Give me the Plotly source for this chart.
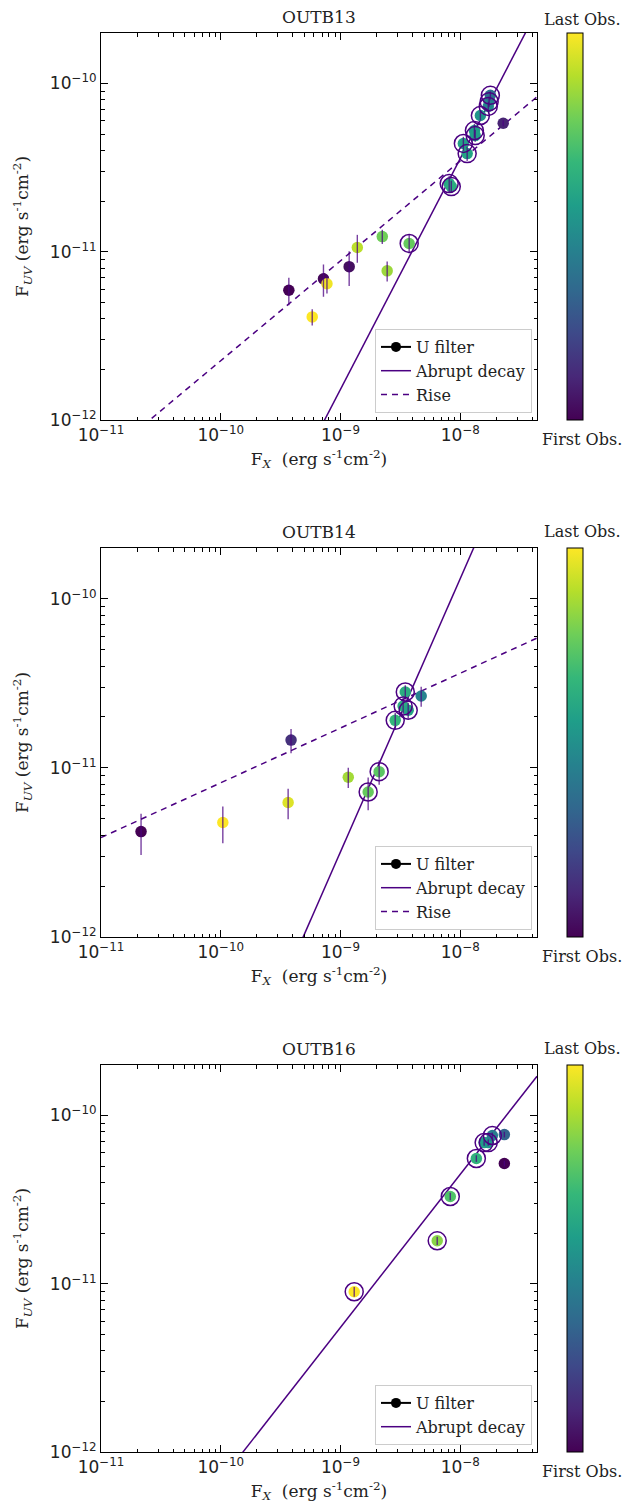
import numpy as np
import plotly.graph_objects as go

# ---------------- data ----------------
titles = ["OUTB13", "OUTB14", "OUTB16"]

# OUTB13
fx1 = [3.7e-10, 7.2e-10, 7.7e-10, 5.8e-10, 1.18e-9, 1.38e-9, 2.23e-9, 2.45e-9, 3.74e-9,
       8.07e-9, 8.4e-9, 1.06e-8, 1.14e-8, 1.31e-8, 1.33e-8, 1.47e-8, 1.71e-8, 1.74e-8, 1.78e-8, 2.28e-8]
fuv1 = [5.9e-12, 6.9e-12, 6.45e-12, 4.1e-12, 8.15e-12, 1.06e-11, 1.23e-11, 7.7e-12, 1.12e-11,
        2.54e-11, 2.44e-11, 4.4e-11, 3.83e-11, 5.25e-11, 4.9e-11, 6.45e-11, 7.3e-11, 7.8e-11, 8.5e-11, 5.8e-11]
err1 = [1.1e-12, 1.5e-12, 0.8e-12, 0.45e-12, 1.9e-12, 2.0e-12, 1.2e-12, 1.05e-12, 1.4e-12,
        2.8e-12, 2.0e-12, 4.2e-12, 3.7e-12, 5e-12, 4e-12, 4.4e-12, 5e-12, 5.3e-12, 4.7e-12, 2.4e-12]
obs1 = [0.00, 0.02, 0.98, 1.00, 0.04, 0.90, 0.78, 0.85, 0.76,
        0.60, 0.62, 0.57, 0.58, 0.55, 0.56, 0.52, 0.48, 0.44, 0.36, 0.10]
dec1 = [0, 0, 0, 0, 0, 0, 0, 0, 1, 1, 1, 1, 1, 1, 1, 1, 1, 1, 1, 0]

# OUTB14
fx2 = [2.16e-11, 1.04e-10, 3.65e-10, 3.86e-10, 1.16e-9, 1.70e-9, 2.1e-9, 2.86e-9, 3.33e-9, 3.67e-9, 3.47e-9, 4.71e-9]
fuv2 = [4.2e-12, 4.75e-12, 6.24e-12, 1.46e-11, 8.8e-12, 7.2e-12, 9.5e-12, 1.91e-11, 2.32e-11, 2.19e-11, 2.81e-11, 2.66e-11]
err2 = [1.15e-12, 1.17e-12, 1.28e-12, 2.4e-12, 1.2e-12, 1.58e-12, 1.56e-12, 2.1e-12, 2.5e-12, 2.4e-12, 2.7e-12, 3.6e-12]
obs2 = [0.00, 1.00, 0.95, 0.14, 0.86, 0.76, 0.74, 0.66, 0.62, 0.58, 0.62, 0.45]
dec2 = [0, 0, 0, 0, 0, 1, 1, 1, 1, 1, 1, 0]

# OUTB16
fx3 = [1.30e-9, 6.41e-9, 8.24e-9, 1.36e-8, 1.58e-8, 1.71e-8, 1.85e-8, 2.33e-8, 2.33e-8]
fuv3 = [8.96e-12, 1.80e-11, 3.30e-11, 5.55e-11, 6.9e-11, 6.9e-11, 7.6e-11, 7.7e-11, 5.18e-11]
err3 = [0.6e-12, 1.0e-12, 1.7e-12, 2.5e-12, 3e-12, 3e-12, 3.2e-12, 3e-12, 2e-12]
obs3 = [1.00, 0.82, 0.72, 0.64, 0.56, 0.52, 0.42, 0.32, 0.00]
dec3 = [1, 1, 1, 1, 1, 1, 1, 0, 0]

# power-law fits: (slope, F_UV at F_X = 1e-8)
decay_fit = [(1.372, 3.59e-11), (1.616, 1.32e-10), (0.910, 4.48e-11)]
rise_fit = [(0.594, 3.47e-11), (0.324, 3.63e-11), None]

xtick_vals = [1e-11, 1e-10, 1e-9, 1e-8]
xtick_text = ["10<sup>−11</sup>", "10<sup>−10</sup>", "10<sup>−9</sup>", "10<sup>−8</sup>"]
ytick_vals = [1e-12, 1e-11, 1e-10]
ytick_text = ["10<sup>−12</sup>", "10<sup>−11</sup>", "10<sup>−10</sup>"]

panels = [(fx1, fuv1, err1, obs1, dec1), (fx2, fuv2, err2, obs2, dec2), (fx3, fuv3, err3, obs3, dec3)]

# ---------------- layout geometry (pixels, page coords) ----------------
OFF = 8                      # page body margin offset
W, H = 644 - OFF, 1505 - OFF
xl, xr = 101 - OFF, 537 - OFF
ytops = [33 - OFF, 548 - OFF, 1065 - OFF]
ybots = [420 - OFF, 937 - OFF, 1452 - OFF]
cbx = 567 - OFF
cbc = 582 - OFF
XR = [-11, -7.36]
YR = [-12, -9.7]
LINE = "#4B0082"
SERIF = "DejaVu Serif"
SANS = "DejaVu Sans"

minor_x = [m * 10.0 ** e for e in range(-11, -7) for m in range(2, 10)]
minor_y = [m * 10.0 ** e for e in range(-12, -9) for m in range(2, 10)]

fig = go.Figure()
xgrid = np.logspace(XR[0], XR[1], 80)

for i, (fx, fuv, er, ob, dc) in enumerate(panels):
    n = i + 1
    xa = "x" if n == 1 else f"x{n}"
    ya = "y" if n == 1 else f"y{n}"
    ca = "coloraxis" if n == 1 else f"coloraxis{n}"
    lg = "legend" if n == 1 else f"legend{n}"

    # fit lines
    s, a = decay_fit[i]
    fig.add_trace(go.Scatter(x=xgrid, y=a * (xgrid / 1e-8) ** s, mode="lines",
                             line=dict(color=LINE, width=1.5), xaxis=xa, yaxis=ya,
                             showlegend=False, hoverinfo="skip"))
    if rise_fit[i] is not None:
        s2, a2 = rise_fit[i]
        fig.add_trace(go.Scatter(x=xgrid, y=a2 * (xgrid / 1e-8) ** s2, mode="lines",
                                 line=dict(color=LINE, width=1.5, dash="6px,5px"), xaxis=xa, yaxis=ya,
                                 showlegend=False, hoverinfo="skip"))
    # coloured points
    fig.add_trace(go.Scatter(x=fx, y=fuv, mode="markers",
                             marker=dict(size=11.5, color=ob, coloraxis=ca, line=dict(width=0)),
                             xaxis=xa, yaxis=ya, showlegend=False))
    # rings for decay points
    rx = [x for x, d in zip(fx, dc) if d]
    ry = [y for y, d in zip(fuv, dc) if d]
    fig.add_trace(go.Scatter(x=rx, y=ry, mode="markers",
                             marker=dict(size=18, symbol="circle-open", color=LINE, line=dict(width=1.5, color=LINE)),
                             xaxis=xa, yaxis=ya, showlegend=False, hoverinfo="skip"))
    # error bars on top
    fig.add_trace(go.Scatter(x=fx, y=fuv, mode="markers",
                             marker=dict(size=1, color="rgba(0,0,0,0)"),
                             error_y=dict(type="data", array=er, visible=True, width=0,
                                          thickness=1.4, color="rgba(75,0,130,0.75)"),
                             xaxis=xa, yaxis=ya, showlegend=False, hoverinfo="skip"))
    # legend entries
    fig.add_trace(go.Scatter(x=[None], y=[None], mode="lines+markers", name="U filter",
                             line=dict(color="black", width=2), marker=dict(color="black", size=10),
                             xaxis=xa, yaxis=ya, legend=lg))
    fig.add_trace(go.Scatter(x=[None], y=[None], mode="lines", name="Abrupt decay",
                             line=dict(color=LINE, width=1.5), xaxis=xa, yaxis=ya, legend=lg))
    if rise_fit[i] is not None:
        fig.add_trace(go.Scatter(x=[None], y=[None], mode="lines", name="Rise",
                                 line=dict(color=LINE, width=1.5, dash="6px,5px"), xaxis=xa, yaxis=ya, legend=lg))

    yd = [1 - ybots[i] / H, 1 - ytops[i] / H]
    xd = [xl / W, xr / W]
    common = dict(type="log", showline=True, linecolor="black", linewidth=1, mirror="allticks",
                  ticks="inside", ticklen=7, tickwidth=1, tickcolor="black", showgrid=False, zeroline=False,
                  automargin=False,
                  tickfont=dict(family=SANS, size=17, color="#222"))
    fig.layout[f"xaxis{'' if n == 1 else n}"] = dict(
        common, domain=xd, range=XR, anchor=ya, tickmode="array", tickvals=xtick_vals, ticktext=xtick_text,
        minor=dict(tickmode="array", tickvals=minor_x, ticks="inside", ticklen=3.5, tickwidth=1,
                   tickcolor="black", showgrid=False),
        title=dict(text="F<sub><i>X</i></sub>  (erg s<sup>-1</sup>cm<sup>-2</sup>)",
                   font=dict(family=SERIF, size=17, color="#222"), standoff=8))
    fig.layout[f"yaxis{'' if n == 1 else n}"] = dict(
        common, domain=yd, range=YR, anchor=xa, tickmode="array", tickvals=ytick_vals, ticktext=ytick_text,
        minor=dict(tickmode="array", tickvals=minor_y, ticks="inside", ticklen=3.5, tickwidth=1,
                   tickcolor="black", showgrid=False),
        title=dict(text="F<sub><i>UV</i></sub> (erg s<sup>-1</sup>cm<sup>-2</sup>)",
                   font=dict(family=SERIF, size=17, color="#222"), standoff=16))

    fig.layout[ca] = dict(colorscale="Viridis", cmin=0, cmax=1,
                          colorbar=dict(x=cbx / W, xanchor="left", xpad=0, ypad=0,
                                        y=(yd[0] + yd[1]) / 2, yanchor="middle",
                                        len=(yd[1] - yd[0]), lenmode="fraction", thickness=16,
                                        showticklabels=False, ticks="", outlinewidth=1,
                                        outlinecolor="black"))
    fig.layout[lg] = dict(x=(xr - 5) / W, xanchor="right", y=1 - (ybots[i] - 7) / H, yanchor="bottom",
                          bgcolor="rgba(255,255,255,0.85)", bordercolor="#cccccc", borderwidth=1,
                          font=dict(family=SERIF, size=16, color="#222"), tracegroupgap=0,
                          itemwidth=30)

    fig.add_annotation(text=titles[i], x=(xl + xr) / 2 / W, y=1 - (ytops[i] - 4) / H, xref="paper", yref="paper",
                       xanchor="center", yanchor="bottom", showarrow=False,
                       font=dict(family=SERIF, size=17, color="#222"))
    ytxt = min(1.0, 1 - (ytops[i] - 28) / H)
    fig.add_annotation(text="Last Obs.", x=cbc / W, y=ytxt, xref="paper", yref="paper",
                       xanchor="center", yanchor="top", showarrow=False,
                       font=dict(family=SERIF, size=16, color="#222"))
    fig.add_annotation(text="First Obs.", x=cbc / W, y=1 - (ybots[i] + 8) / H, xref="paper", yref="paper",
                       xanchor="center", yanchor="top", showarrow=False,
                       font=dict(family=SERIF, size=16, color="#222"))

fig.update_layout(width=W, height=H, margin=dict(l=0, r=0, t=0, b=0, autoexpand=False),
                  paper_bgcolor="white", plot_bgcolor="white", showlegend=True)

fig.write_html("out.html")
